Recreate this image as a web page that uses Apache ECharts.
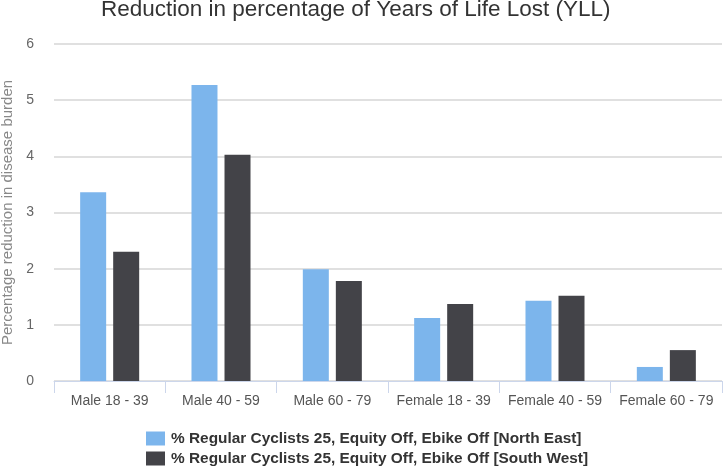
<!DOCTYPE html>
<html>
<head>
<meta charset="utf-8">
<script src="https://cdn.jsdelivr.net/npm/echarts@6/dist/echarts.min.js"></script>
<style>html,body{margin:0;padding:0;background:#fff}#c{width:726px;height:466px}</style>
</head>
<body>
<div id="c"></div>
<script>
const titleText = "Reduction in percentage of Years of Life Lost (YLL)";
const yAxisName = "Percentage reduction in disease burden";
const categories = ["Male 18 - 39", "Male 40 - 59", "Male 60 - 79", "Female 18 - 39", "Female 40 - 59", "Female 60 - 79"];
const seriesNames = ["% Regular Cyclists 25, Equity Off, Ebike Off [North East]", "% Regular Cyclists 25, Equity Off, Ebike Off [South West]"];
const northEast = [3.36, 5.27, 1.99, 1.12, 1.43, 0.25];
const southWest = [2.30, 4.03, 1.78, 1.37, 1.52, 0.55];
const yTicks = [0, 1, 2, 3, 4, 5, 6];

const FONT = 'Liberation Sans, Arial, sans-serif';
const chart = echarts.init(document.getElementById('c'), null, {renderer: 'canvas'});
chart.setOption({
  animation: false,
  backgroundColor: '#ffffff',
  title: {
    text: titleText,
    left: 101,
    top: -2,
    padding: 0,
    textStyle: {fontFamily: FONT, fontSize: 22.5, fontWeight: 'normal', color: '#333333'}
  },
  legend: {
    orient: 'vertical',
    left: 146,
    top: 431,
    padding: 0,
    itemWidth: 19,
    itemHeight: 14,
    itemGap: 5,
    icon: 'rect',
    data: seriesNames,
    textStyle: {fontFamily: FONT, fontSize: 15.4, fontWeight: 'bold', color: '#333333', padding: [0,0,0,1]}
  },
  grid: {left: 54, right: 4, top: 44, bottom: 85, containLabel: false, outerBoundsMode: 'none'},
  xAxis: {
    type: 'category',
    data: categories,
    axisLine: {show: true, lineStyle: {color: '#ccd6eb', width: 1}},
    axisTick: {show: true, length: 12, lineStyle: {color: '#ccd6eb'}},
    axisLabel: {interval: 0, margin: 13, fontFamily: FONT, fontSize: 14, color: '#555555'},
    splitLine: {show: false}
  },
  yAxis: {
    type: 'value',
    min: yTicks[0],
    max: yTicks[yTicks.length - 1],
    interval: 1,
    name: yAxisName,
    nameLocation: 'middle',
    nameGap: 38,
    nameTextStyle: {fontFamily: FONT, fontSize: 15, color: '#888888'},
    axisLine: {show: false},
    axisTick: {show: false},
    axisLabel: {margin: 20, fontFamily: FONT, fontSize: 14, color: '#666666'},
    splitLine: {lineStyle: {color: '#e0e0e0', width: 2}}
  },
  series: [
    {name: seriesNames[0], type: 'bar', data: northEast, barWidth: 26, barGap: '27%', itemStyle: {color: '#7cb5ec'}},
    {name: seriesNames[1], type: 'bar', data: southWest, barWidth: 26, barGap: '27%', itemStyle: {color: '#434348'}}
  ]
});
</script>
</body>
</html>
